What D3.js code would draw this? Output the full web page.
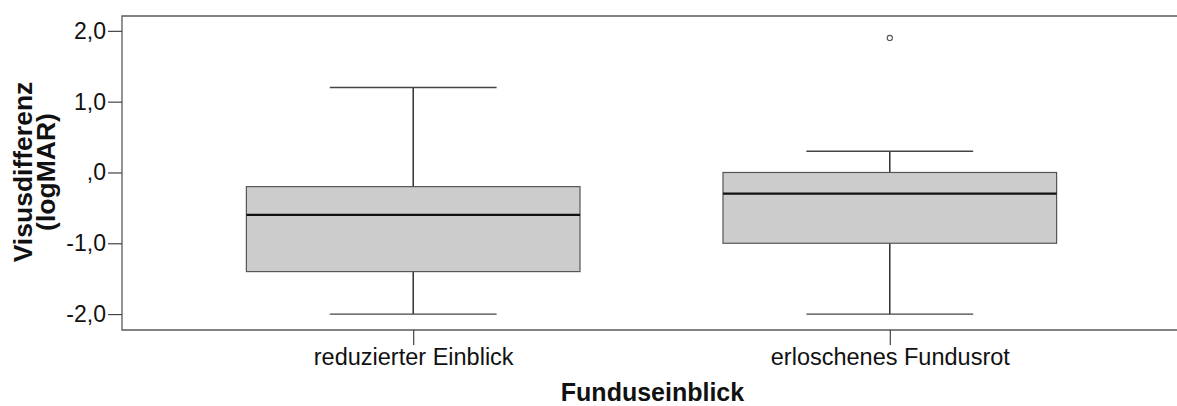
<!DOCTYPE html>
<html><head><meta charset="utf-8">
<script src="https://cdn.jsdelivr.net/npm/d3@7"></script>
<style>body{margin:0;background:#fff}svg{display:block}text{font-family:"Liberation Sans",Arial,sans-serif}</style>
</head><body>
<svg id="c" width="1177" height="406"></svg>
<script>
const categories = ["reduzierter Einblick", "erloschenes Fundusrot"];
const whiskerLow = [-2.0, -2.0];
const q1 = [-1.4, -1.0];
const median = [-0.6, -0.3];
const q3 = [-0.2, 0.0];
const whiskerHigh = [1.2, 0.3];
const outliers = [[], [1.9]];
const yTicks = [-2, -1, 0, 1, 2];
const yTickLabels = ["-2,0", "-1,0", ",0", "1,0", "2,0"];

const svg = d3.select("#c");
const L = 122, R = 1181, T = 16, B = 330;
const y = d3.scaleLinear().domain([-2.225, 2.21]).range([B, T]);
const x = d3.scalePoint().domain(categories).range([L, R]).padding(0.611);
const step = x.step();
const bw = step * 0.7, cw = bw / 2;
const FONT = "Liberation Sans, Arial, sans-serif";

// frame (top, left, bottom)
svg.append("path").attr("d", `M${R},${T}H${L}V${B}H${R}`).attr("fill", "none").attr("stroke", "#5a5a5a").attr("stroke-width", 1.3);

// y axis
const ya = d3.axisLeft(y).tickValues(yTicks).tickSize(14).tickPadding(2).tickFormat(d => yTickLabels[yTicks.indexOf(d)]);
const gy = svg.append("g").attr("transform", `translate(${L},0)`).call(ya);
gy.select(".domain").remove();
gy.selectAll(".tick line").attr("stroke", "#444").attr("stroke-width", 1.2);
gy.selectAll(".tick text").attr("font-size", 23).attr("fill", "#111").attr("font-family", FONT);

// x axis
const xa = d3.axisBottom(x).tickSize(15).tickPadding(3);
const gx = svg.append("g").attr("transform", `translate(0,${B})`).call(xa);
gx.select(".domain").remove();
gx.selectAll(".tick line").attr("stroke", "#444").attr("stroke-width", 1.2);
gx.selectAll(".tick text").attr("font-size", 23.5).attr("fill", "#111").attr("font-family", FONT);

// boxes
categories.forEach((c, i) => {
  const cx = x(c);
  const g = svg.append("g");
  g.append("line").attr("x1", cx).attr("x2", cx).attr("y1", y(q3[i])).attr("y2", y(whiskerHigh[i])).attr("stroke", "#222").attr("stroke-width", 1.4);
  g.append("line").attr("x1", cx).attr("x2", cx).attr("y1", y(q1[i])).attr("y2", y(whiskerLow[i])).attr("stroke", "#222").attr("stroke-width", 1.4);
  g.append("line").attr("x1", cx - cw / 2).attr("x2", cx + cw / 2).attr("y1", y(whiskerHigh[i])).attr("y2", y(whiskerHigh[i])).attr("stroke", "#444").attr("stroke-width", 1.3);
  g.append("line").attr("x1", cx - cw / 2).attr("x2", cx + cw / 2).attr("y1", y(whiskerLow[i])).attr("y2", y(whiskerLow[i])).attr("stroke", "#444").attr("stroke-width", 1.3);
  g.append("rect").attr("x", cx - bw / 2).attr("width", bw).attr("y", y(q3[i])).attr("height", y(q1[i]) - y(q3[i]))
    .attr("fill", "#cccccc").attr("stroke", "#555").attr("stroke-width", 1.2);
  g.append("line").attr("x1", cx - bw / 2).attr("x2", cx + bw / 2).attr("y1", y(median[i])).attr("y2", y(median[i])).attr("stroke", "#111").attr("stroke-width", 2.2);
  outliers[i].forEach(v => {
    g.append("circle").attr("cx", cx).attr("cy", y(v)).attr("r", 2.6).attr("fill", "#fff").attr("stroke", "#555").attr("stroke-width", 1.1);
  });
});

// axis titles
svg.append("text").attr("x", (L + R) / 2 + 1).attr("y", 401).attr("text-anchor", "middle").attr("font-size", 25).attr("font-weight", "bold").attr("fill", "#111").text("Funduseinblick");
const yt = svg.append("text").attr("transform", `translate(32,${(T + B) / 2 - 1}) rotate(-90)`).attr("text-anchor", "middle").attr("font-size", 26.5).attr("font-weight", "bold").attr("fill", "#111");
yt.append("tspan").attr("x", 0).attr("dy", 0).text("Visusdifferenz");
yt.append("tspan").attr("x", 0).attr("dy", 23).text("(logMAR)");
</script>
</body></html>
